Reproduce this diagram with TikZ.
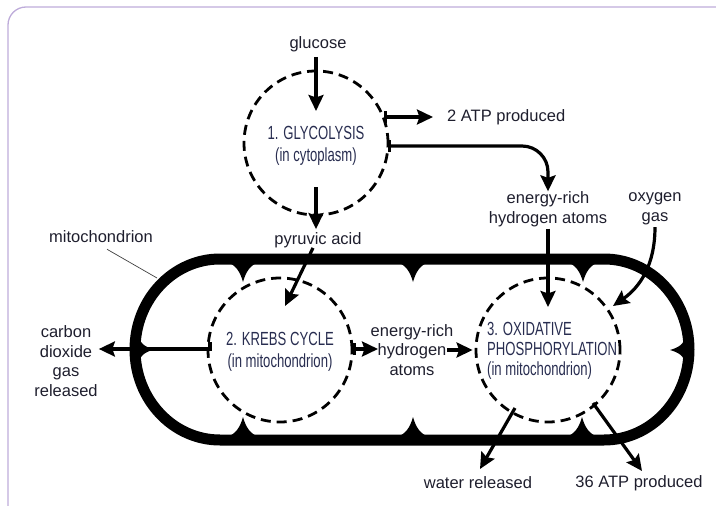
\documentclass[tikz,border=0pt]{standalone}
\usepackage{fontspec}
\setmainfont{Liberation Sans}
\newfontfamily\narrowf[FakeStretch=0.69]{Liberation Sans}
\usetikzlibrary{arrows.meta}
\definecolor{txt}{RGB}{30,30,45}
\definecolor{lbl}{RGB}{40,45,80}
\definecolor{framec}{RGB}{190,172,218}
\begin{document}
\begin{tikzpicture}[x=1pt,y=-1pt,
  every node/.style={text=txt, font=\fontsize{16.5}{19.5}\selectfont, inner sep=0pt},
  stage/.style={circle, draw, line width=2.8pt, dash pattern=on 10pt off 6pt, minimum size=144pt},
  stagelbl/.style={text=lbl, font=\narrowf\fontsize{19}{21.5}\selectfont, align=center},
  flow/.style={line width=3.2pt, -{Stealth[length=16pt,width=15pt,inset=2.5pt]}},
  barflow/.style={line width=3.2pt, {Bar[width=12pt]}-{Stealth[length=16pt,width=15pt,inset=2.5pt]}},
  thinline/.style={line width=0.7pt, black!75},
  cusp/.pic={\fill (-17,0) .. controls (-8,2) and (-3,9) .. (0,20) .. controls (3,9) and (8,2) .. (17,0) -- (17,-5) -- (-17,-5) -- cycle;}
]
\useasboundingbox (0,0) rectangle (716,506);
% outer frame
\draw[framec, line width=1.3pt, rounded corners=18pt] (8,7) rectangle (745,530);

% mitochondrion
\draw[line width=11pt] (220,259) -- (604,259)
  .. controls (651,259) and (689,299.5) .. (689,349.5)
  .. controls (689,399.5) and (651,440) .. (604,440) -- (220,440)
  .. controls (173,440) and (135,399.5) .. (135,349.5)
  .. controls (135,299.5) and (173,259) .. (220,259) -- cycle;
\pic at (243,262) {cusp};
\pic at (413,262) {cusp};
\pic at (583,262) {cusp};
\pic[rotate=180] at (243,437) {cusp};
\pic[rotate=180] at (413,437) {cusp};
\pic[rotate=180] at (582,437) {cusp};
\pic[rotate=90, scale=0.8] at (138,349.5) {cusp};
\pic[rotate=-90, scale=0.8] at (686,350) {cusp};

% stages
\node[stage] (glyc) at (316,143) {};
\node[stagelbl] (glycl) at (316,146) {1. GLYCOLYSIS\\(in cytoplasm)};
\node[stage] (krebs) at (280,350) {};
\node[stagelbl] (krebsl) at (280,352) {2. KREBS CYCLE\\(in mitochondrion)};
\node[stage] (oxid) at (548,350) {};
\node[stagelbl, align=left, anchor=west, font=\narrowf\fontsize{19}{20}\selectfont] (oxidl) at (487,351) {3. OXIDATIVE\\PHOSPHORYLATION\\(in mitochondrion)};

% text labels
\node (glucose) at (318,44) {glucose};
\node[anchor=west] (atp2) at (447,117) {2 ATP produced};
\node[align=center] (eh1) at (548,209) {energy-rich\\hydrogen atoms};
\node[align=center] (oxy) at (655,209) {oxygen\\gas};
\node (mito) at (101,237) {mitochondrion};
\node (pyr) at (318,240) {pyruvic acid};
\node[align=center] (co2) at (66,361) {carbon\\dioxide\\gas\\released};
\node[align=center] (eh2) at (412,350) {energy-rich\\hydrogen\\atoms};
\node (water) at (478,483) {water released};
\node (atp36) at (639,483) {36 ATP produced};

% coordinates
\coordinate (gin) at (316,111);
\coordinate (gatp) at (384,117);
\coordinate (gh) at (388,146);
\coordinate (gout) at (316,187);
\coordinate (kin) at (285,306);
\coordinate (kco) at (210,342);
\coordinate (kh) at (353,349);
\coordinate (hend) at (378,349);
\coordinate (h2e) at (447,350);
\coordinate (oin) at (548,307);
\coordinate (oxin) at (613,306);
\coordinate (owa) at (515,408);
\coordinate (wtip) at (480,469);
\coordinate (oat) at (593,403);
\coordinate (atip) at (642,471);
\coordinate (mitoend) at (157,278);

% connectors
\draw[flow] (gin |- glucose.south) ++(0,5) -- (gin);
\draw[barflow, shorten >=14pt] (gatp) -- (atp2.west);
\draw[barflow, rounded corners=26pt] (gh) -- (gh -| eh1.north) -- (eh1.north);
\draw[flow, shorten >=3pt] (gout) -- (gout |- pyr.north);
\draw[flow] ([xshift=-5pt]pyr.south) -- (kin);
\draw[flow] (kco) |- ([xshift=1pt]co2.east |- kh);
\draw[barflow] (kh) -- (hend);
\draw[flow, shorten >=2pt] (h2e) -- (oxid.west);
\draw[flow] ([yshift=-2pt]eh1.south) -- (oin);
\draw[flow] ([yshift=-2pt]oxy.south) .. controls (655,265) and (640,287) .. (oxin);
\draw[flow] (owa) -- (wtip);
\draw[flow] (oat) -- (atip);
\draw[thinline] ([xshift=6pt,yshift=-6pt]mito.south) -- (mitoend);
\end{tikzpicture}
\end{document}
